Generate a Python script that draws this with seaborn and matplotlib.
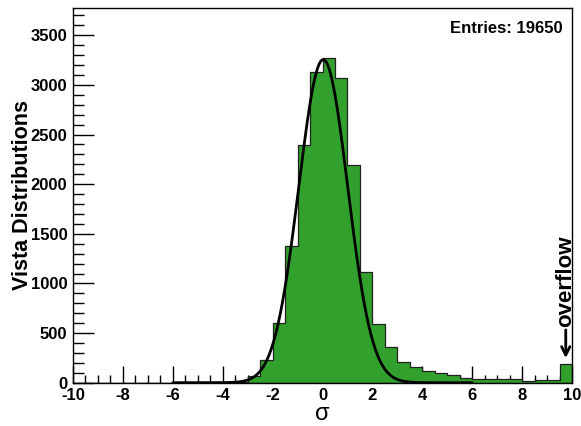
import numpy as np
import pandas as pd
import matplotlib
matplotlib.use("Agg")
import matplotlib.pyplot as plt
from matplotlib.ticker import MultipleLocator
import seaborn as sns

# ---- data ----
bin_width = 0.5
bin_range = (-10.0, 10.0)
bin_centers = np.arange(-9.75, 10.0, 0.5)
counts = [0, 0, 0, 0, 0, 0, 0, 0, 0, 0,
          1, 2, 4, 12,
          70, 229, 602, 1377, 2392, 3127, 3270, 3073, 2190, 1112,
          588, 363, 212, 161, 118, 101, 78, 50, 37, 34,
          34, 37, 13, 27, 27, 185]
fit_amp = 3255.0
fit_mean = 0.03
fit_sigma = 0.98
fit_range = (-6.0, 6.0)
entries_text = "Entries: 19650"
xlabel = "σ"
ylabel = "Vista Distributions"

sns.set_style("white")
plt.rcParams['font.family'] = ['Liberation Sans', 'DejaVu Sans']
plt.rcParams['axes.unicode_minus'] = False
plt.rcParams['text.color'] = 'black'
plt.rcParams['axes.labelcolor'] = 'black'
plt.rcParams['xtick.color'] = 'black'
plt.rcParams['ytick.color'] = 'black'

fig = plt.figure(figsize=(5.81, 4.26), dpi=100)
ax = fig.add_axes([73/581, 1-382.7/426, (572-73)/581, (382.7-8)/426])

df = pd.DataFrame({"x": bin_centers, "w": np.asarray(counts, dtype=float)})
sns.histplot(data=df, x="x", weights="w", binwidth=bin_width, binrange=bin_range,
             element="step", fill=True, color="#31a02c", alpha=1.0,
             edgecolor="#222222", linewidth=0.9, ax=ax)

xf = np.linspace(fit_range[0], fit_range[1], 400)
yf = fit_amp * np.exp(-0.5 * ((xf - fit_mean) / fit_sigma) ** 2)
sns.lineplot(x=xf, y=yf, color="black", linewidth=2.0, ax=ax)

ax.set_xlim(-10, 10)
ax.set_ylim(0, 3775)
ax.xaxis.set_major_locator(MultipleLocator(2))
ax.xaxis.set_minor_locator(MultipleLocator(0.5))
ax.yaxis.set_major_locator(MultipleLocator(500))
ax.yaxis.set_minor_locator(MultipleLocator(100))
ax.tick_params(axis="x", which="major", direction="in", length=12, width=1, pad=4, labelsize=12)
ax.tick_params(axis="x", which="minor", direction="in", length=6, width=1)
ax.tick_params(axis="y", which="major", direction="in", length=15, width=1, pad=4, labelsize=12)
ax.tick_params(axis="y", which="minor", direction="in", length=8, width=1)
ax.tick_params(bottom=True, left=True, which="both")
for lbl in ax.get_xticklabels() + ax.get_yticklabels():
    lbl.set_fontweight("bold")
for s in ax.spines.values():
    s.set_color("black")
    s.set_linewidth(1)

ax.set_xlabel(xlabel, fontsize=17)
ax.xaxis.label.set_va("center")
ax.xaxis.set_label_coords(0.499, -0.083)
ax.set_ylabel(ylabel, fontsize=15.5, fontweight="bold")
ax.yaxis.label.set_va("center")
ax.yaxis.set_label_coords(-0.101, 0.501)

ax.text(0.982, 0.9466, entries_text, transform=ax.transAxes, ha="right", va="center",
        fontsize=12, fontweight="bold")

ax.annotate("", xy=(9.75, 220), xytext=(9.75, 560),
            arrowprops=dict(arrowstyle="->", color="black", lw=2, mutation_scale=15))
ax.text(9.75, 560, "overflow", rotation=90, ha="center", va="bottom",
        fontsize=16, fontweight="bold")

fig.savefig("out.png", dpi=100)
